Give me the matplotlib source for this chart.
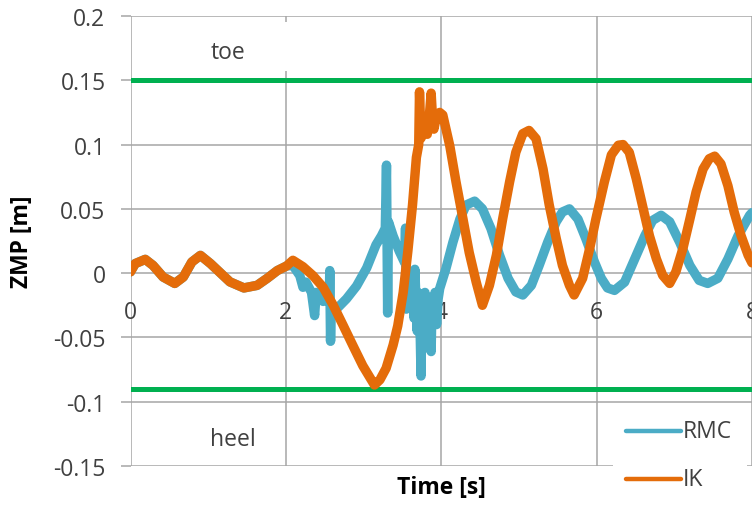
import matplotlib
matplotlib.use("Agg")
import matplotlib.pyplot as plt
from matplotlib.patches import Rectangle
from matplotlib.lines import Line2D

# ---------------- data ----------------
time_rmc = [0.00, 0.06, 0.19, 0.29, 0.42, 0.57, 0.68, 0.79, 0.90, 1.03, 1.16, 1.28, 1.46,
            1.63, 1.76, 1.89, 2.01, 2.09, 2.18, 2.22, 2.26, 2.33, 2.37, 2.39, 2.48, 2.56,
            2.565, 2.575, 2.585, 2.65, 2.78, 2.91, 3.04, 3.16, 3.23, 3.28, 3.295, 3.31,
            3.32, 3.38, 3.46, 3.53, 3.54, 3.55, 3.57, 3.60, 3.62, 3.63, 3.65, 3.66, 3.68,
            3.69, 3.70, 3.72, 3.73, 3.74, 3.75, 3.77, 3.79, 3.80, 3.81, 3.83, 3.85, 3.87,
            3.88, 3.90, 3.92, 3.94, 3.96, 3.98, 4.06, 4.15, 4.24, 4.32, 4.43, 4.53,
            4.64, 4.75, 4.86, 4.96, 5.05, 5.16, 5.26, 5.37, 5.48, 5.56, 5.65, 5.76, 5.86,
            5.97, 6.06, 6.14, 6.23, 6.36, 6.49, 6.62, 6.72, 6.83, 6.94, 7.07, 7.20, 7.32,
            7.43, 7.56, 7.69, 7.82, 7.97, 8.00]
zmp_rmc = [0.001, 0.0074, 0.0107, 0.006, -0.003, -0.008, -0.003, 0.0087, 0.0138, 0.0074,
           0.000, -0.0068, -0.0115, -0.0095, -0.004, 0.002, 0.0056, 0.006, -0.002, -0.011,
           -0.007, -0.015, -0.033, -0.015, -0.022, -0.020, 0.002, -0.053, -0.024, -0.028,
           -0.020, -0.010, 0.004, 0.022, 0.029, 0.035, 0.084, -0.031, 0.040, 0.029, 0.017,
           0.008, 0.035, -0.028, -0.004, -0.020, -0.008, -0.015, -0.035, 0.003, -0.030,
           -0.045, -0.015, -0.020, -0.050, -0.080, -0.025, -0.045, -0.015, -0.040, -0.058,
           -0.020, -0.045, -0.061, -0.025, -0.035, -0.015, -0.040, -0.020, -0.012,
           0.0035, 0.024, 0.042, 0.053, 0.056, 0.050, 0.0346, 0.014, -0.004, -0.0146,
           -0.017, -0.0095, 0.006, 0.024, 0.040, 0.0476, 0.050, 0.042, 0.027, 0.009,
           -0.004, -0.0115, -0.0134, -0.007, 0.011, 0.029, 0.041, 0.045, 0.040, 0.024,
           0.006, -0.0056, -0.008, -0.004, 0.011, 0.029, 0.045, 0.047]

time_ik = [0.00, 0.06, 0.19, 0.29, 0.42, 0.57, 0.68, 0.79, 0.90, 1.03, 1.16, 1.28, 1.46,
           1.63, 1.76, 1.89, 2.01, 2.09, 2.22, 2.35, 2.48, 2.61, 2.74, 2.86, 2.99, 3.10,
           3.14, 3.21, 3.29, 3.38, 3.44, 3.51, 3.57, 3.63, 3.68, 3.71, 3.72, 3.74, 3.785,
           3.82, 3.85, 3.87, 3.89, 3.905, 3.94, 3.98, 4.02, 4.11, 4.19, 4.28, 4.36, 4.45,
           4.53, 4.62, 4.71, 4.79, 4.88, 4.96, 5.05, 5.13, 5.22, 5.31, 5.39, 5.48, 5.56,
           5.65, 5.71, 5.82, 5.91, 5.99, 6.10, 6.19, 6.28, 6.34, 6.42, 6.51, 6.60, 6.68,
           6.77, 6.85, 6.94, 7.02, 7.11, 7.20, 7.28, 7.37, 7.45, 7.52, 7.60, 7.69, 7.77,
           7.86, 7.95, 8.00]
zmp_ik = [0.001, 0.0074, 0.0107, 0.006, -0.003, -0.008, -0.003, 0.0087, 0.0138, 0.0074,
          0.000, -0.0068, -0.0115, -0.0095, -0.004, 0.002, 0.0056, 0.010, 0.005, -0.002,
          -0.011, -0.025, -0.041, -0.056, -0.072, -0.083, -0.087, -0.083, -0.074, -0.056,
          -0.041, -0.015, 0.017, 0.053, 0.090, 0.100, 0.141, 0.105, 0.112, 0.108, 0.125,
          0.140, 0.118, 0.112, 0.122, 0.125, 0.123, 0.099, 0.071, 0.042, 0.016, -0.007,
          -0.025, -0.0095, 0.014, 0.042, 0.071, 0.094, 0.1085, 0.111, 0.1046, 0.081, 0.053,
          0.027, 0.006, -0.0095, -0.017, -0.004, 0.019, 0.042, 0.071, 0.092, 0.0995, 0.100,
          0.094, 0.0735, 0.050, 0.029, 0.011, -0.0017, -0.008, 0.001, 0.019, 0.042, 0.063,
          0.081, 0.089, 0.091, 0.085, 0.068, 0.0476, 0.029, 0.014, 0.008]

series_labels = ["RMC", "IK"]
toe_limit = 0.15
heel_limit = -0.09
x_ticks = [0, 2, 4, 6, 8]
y_ticks = [-0.15, -0.1, -0.05, 0, 0.05, 0.1, 0.15, 0.2]
y_tick_labels = ["-0.15", "-0.1", "-0.05", "0", "0.05", "0.1", "0.15", "0.2"]

# ---------------- styling ----------------
plt.rcParams["font.family"] = ["Open Sans", "DejaVu Sans"]
FS = 16.5
TXT = "#404040"
GRID = "#a6a6a6"
C_RMC = "#4bacc6"
C_IK = "#e46c0a"
C_LIM = "#00b050"

W, H = 752, 506
fig = plt.figure(figsize=(W / 100, H / 100), dpi=100)
ax = fig.add_axes([130.5 / W, 1 - 467 / H, (W - 130.5) / W, 450 / H])
ax.set_xlim(0, 8)
ax.set_ylim(-0.15, 0.2)
for s in ax.spines.values():
    s.set_visible(False)
ax.spines["bottom"].set_position(("data", 0))

ax.set_xticks(x_ticks)
ax.set_xticklabels([str(v) for v in x_ticks])
ax.set_yticks(y_ticks)
ax.set_yticklabels(y_tick_labels)
ax.set_axisbelow(True)
ax.grid(True, color=GRID, linewidth=1.1)
ax.tick_params(axis="y", length=7, width=1.1, color=GRID, pad=11, labelsize=FS,
               labelcolor=TXT)
ax.tick_params(axis="x", length=0, pad=19, labelsize=FS, labelcolor=TXT)

# limit lines
ax.axhline(toe_limit, color=C_LIM, linewidth=3.6, zorder=2)
ax.axhline(heel_limit, color=C_LIM, linewidth=3.6, zorder=2)

# white box behind "toe" label (hides grid like the original text box)
ax.add_patch(Rectangle((1.8, 0.157), 0.4, 0.038, facecolor="white", edgecolor="none",
                       zorder=1))
ax.text(1.25, 0.172, "toe", fontsize=FS, color=TXT, ha="center", va="center", zorder=3)
ax.text(1.32, -0.129, "heel", fontsize=FS, color=TXT, ha="center", va="center", zorder=3)

ax.plot(time_rmc, zmp_rmc, color=C_RMC, linewidth=6.8, solid_joinstyle="round",
        solid_capstyle="round", zorder=3, label=series_labels[0])
ax.plot(time_ik, zmp_ik, color=C_IK, linewidth=6.8, solid_joinstyle="round",
        solid_capstyle="round", zorder=4, label=series_labels[1])

fig.text(22 / W, 1 - 242 / H, "ZMP [m]", rotation=90, fontsize=FS, fontweight="bold",
         ha="center", va="center", color="black")
fig.text(441 / W, 1 - 488 / H, "Time [s]", fontsize=FS, fontweight="bold",
         ha="center", va="center", color="black")

# legend box (bottom right, overlapping the plot area as in the original)
fig.add_artist(Rectangle((613 / W, 0), (747 - 613) / W, 1 - 410 / H,
                         transform=fig.transFigure, facecolor="white", edgecolor="none",
                         zorder=5))
for label, color, ypix in [(series_labels[0], C_RMC, 432), (series_labels[1], C_IK, 480)]:
    yf = 1 - ypix / H
    fig.add_artist(Line2D([626 / W, 681 / W], [yf, yf], transform=fig.transFigure,
                          color=color, linewidth=3.2, solid_capstyle="round", zorder=6))
    fig.text(683 / W, yf, label, fontsize=FS, color=TXT, ha="left", va="center",
             zorder=6)

fig.savefig("out.png", dpi=100)
